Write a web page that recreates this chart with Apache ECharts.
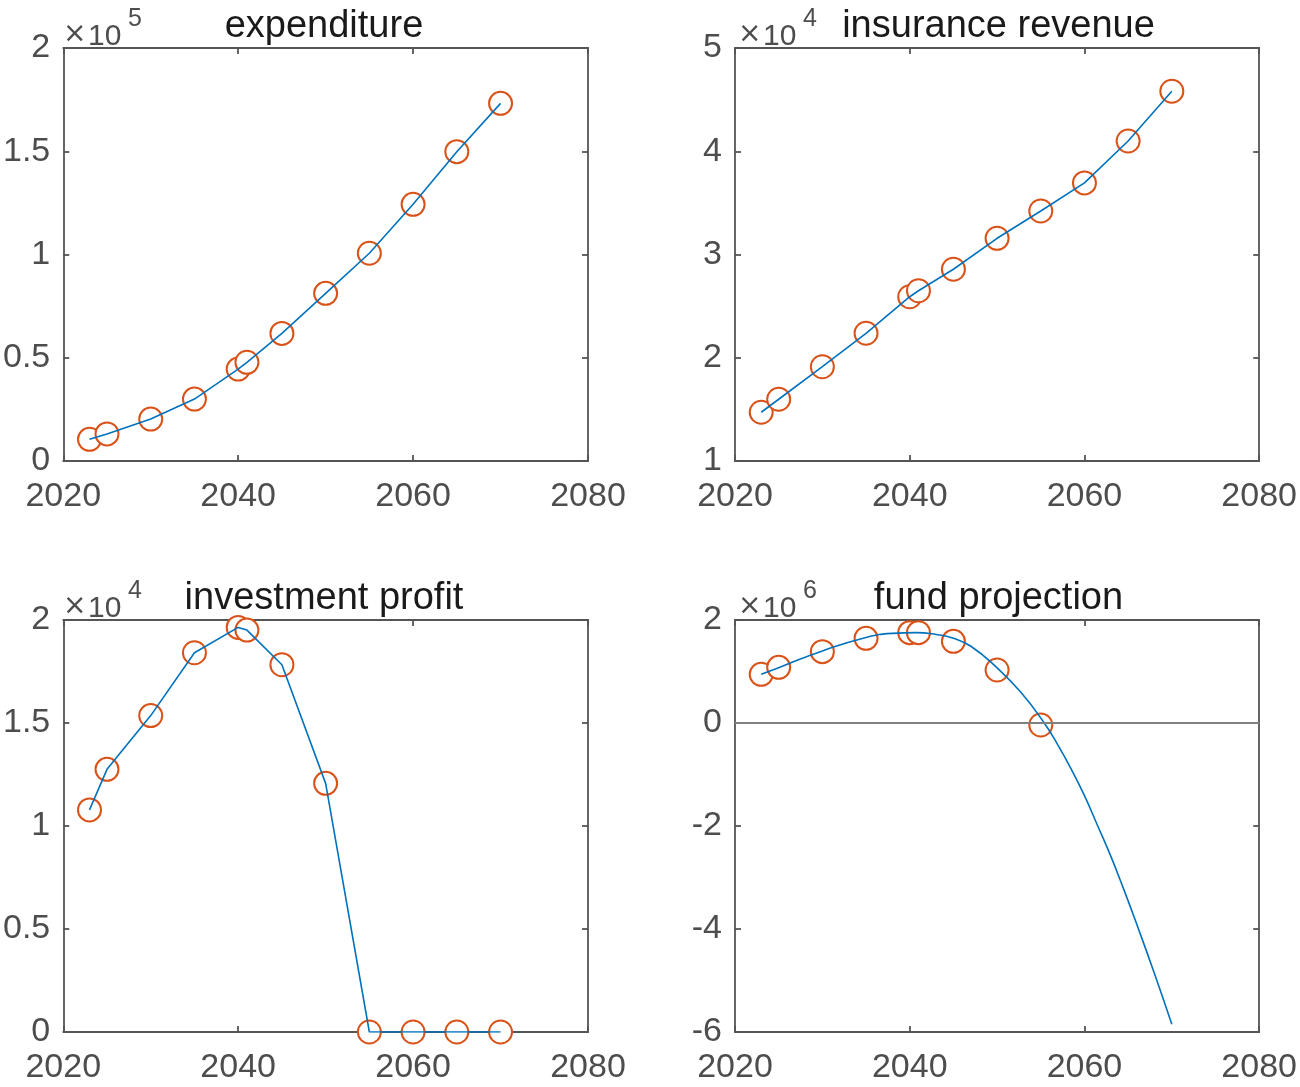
<!DOCTYPE html>
<html>
<head>
<meta charset="utf-8">
<script src="https://cdn.jsdelivr.net/npm/echarts@6/dist/echarts.min.js"></script>
<style>
  html, body { margin: 0; padding: 0; background: #fff; }
  #chart { width: 1300px; height: 1087px; }
</style>
</head>
<body>
<div id="chart"></div>
<script>
// sample years (markers)
const years = [2023, 2025, 2030, 2035, 2040, 2041, 2045, 2050, 2055, 2060, 2065, 2070]
const expenditure = [10500, 13100, 20300, 30000, 44500, 47800, 61800, 81200, 100600, 124300, 149800, 173200]
const insuranceRevenue = [14720, 15980, 19130, 22370, 25910, 26490, 28570, 31570, 34210, 36930, 40990, 45810]
const investmentProfit = [10780, 12750, 15360, 18410, 19640, 19510, 17830, 12070, 0, 0, 0, 0]

// fund projection: observed points until the fund runs out, plus the fitted curve
const fundYears = [2023, 2025, 2030, 2035, 2040, 2041, 2045, 2050, 2055]
const fundBalance = [945000, 1081000, 1385000, 1644000, 1754000, 1754000, 1585000, 1029000, -39000]
const fundCurveYears = [2023, 2025, 2030, 2035, 2038, 2040.7, 2043, 2045, 2047, 2050, 2052.7, 2055.4, 2057, 2058.5, 2060, 2061.5, 2063, 2064.5, 2066.1, 2068, 2070]
const fundCurveValues = [945000, 1075000, 1400000, 1660000, 1740000, 1755000, 1720000, 1645000, 1490000, 1070000, 600000, 0, -440000, -900000, -1410000, -1990000, -2580000, -3230000, -3960000, -4860000, -5850000]

const subplotTitles = ['expenditure', 'insurance revenue', 'investment profit', 'fund projection']
const exponents = ['5', '4', '4', '6']
const yTicks = [
  { min: 0, max: 200000, interval: 50000, scale: 1e5 },
  { min: 10000, max: 50000, interval: 10000, scale: 1e4 },
  { min: 0, max: 20000, interval: 5000, scale: 1e4 },
  { min: -6000000, max: 2000000, interval: 2000000, scale: 1e6 }
]

const FONT = '"Liberation Sans", Helvetica, Arial, sans-serif'
const AXIS_COLOR = '#555555'
const LABEL_COLOR = '#4d4d4d'
const BLUE = '#0072BD'
const ORANGE = '#D95319'

const boxes = [
  { left: 60, top: 48, width: 528, height: 413 },
  { left: 735, top: 48, width: 527, height: 413 },
  { left: 60, top: 620, width: 528, height: 412 },
  { left: 735, top: 620, width: 527, height: 412 }
]

function zip(xs, ys) {
  return xs.map((x, i) => [x, ys[i]])
}

const grid = []
const xAxis = []
const yAxis = []
const title = []

boxes.forEach((b, i) => {
  grid.push({ left: b.left, top: b.top, width: b.width, height: b.height, containLabel: false })
  const line = { show: true, onZero: false, lineStyle: { color: AXIS_COLOR, width: 1.8 } }
  const tick = { show: true, inside: true, length: 6, lineStyle: { color: AXIS_COLOR, width: 1.8 } }
  // bottom x axis with labels
  xAxis.push({
    type: 'value', gridIndex: i, position: 'bottom', min: 2020, max: 2080, interval: 20,
    axisLine: line, axisTick: tick, splitLine: { show: false },
    axisLabel: { color: LABEL_COLOR, fontSize: 34, fontFamily: FONT, margin: 19, formatter: v => String(v) }
  })
  // top x axis, ticks only
  xAxis.push({
    type: 'value', gridIndex: i, position: 'top', min: 2020, max: 2080, interval: 20,
    axisLine: line, axisTick: tick, splitLine: { show: false }, axisLabel: { show: false }
  })
  const yt = yTicks[i]
  yAxis.push({
    type: 'value', gridIndex: i, position: 'left', min: yt.min, max: yt.max, interval: yt.interval,
    axisLine: line, axisTick: tick, splitLine: { show: false },
    axisLabel: {
      color: LABEL_COLOR, fontSize: 34, fontFamily: FONT, margin: 13,
      formatter: v => String(Math.round(v / yt.scale * 10) / 10)
    }
  })
  yAxis.push({
    type: 'value', gridIndex: i, position: 'right', min: yt.min, max: yt.max, interval: yt.interval,
    axisLine: line, axisTick: tick, splitLine: { show: false }, axisLabel: { show: false }
  })

  const row = i < 2 ? 0 : 572
  title.push({
    text: subplotTitles[i], padding: 0,
    left: b.left + b.width / 2, top: 8 + row, textAlign: 'center',
    textStyle: { fontSize: 38, fontWeight: 'normal', color: '#1a1a1a', fontFamily: FONT }
  })
  title.push({
    text: '×', padding: 0,
    left: b.left + 3, top: 21 + row,
    textStyle: { fontSize: 28, fontWeight: 'normal', color: LABEL_COLOR, fontFamily: '"DejaVu Sans", sans-serif' }
  })
  title.push({
    text: '10', padding: 0,
    left: b.left + 28, top: 22 + row,
    textStyle: { fontSize: 30, fontWeight: 'normal', color: LABEL_COLOR, fontFamily: FONT }
  })
  title.push({
    text: exponents[i], padding: 0,
    left: b.left + 68, top: 7 + row,
    textStyle: { fontSize: 25, fontWeight: 'normal', color: LABEL_COLOR, fontFamily: FONT }
  })
})

function lineSeries(idx, data, smooth) {
  return {
    type: 'line', xAxisIndex: idx * 2, yAxisIndex: idx * 2, data: data,
    showSymbol: false, smooth: smooth || false, z: 4,
    lineStyle: { color: BLUE, width: 1.6 }, silent: true, animation: false
  }
}

function markerSeries(idx, data) {
  return {
    type: 'scatter', xAxisIndex: idx * 2, yAxisIndex: idx * 2, data: data,
    symbol: 'emptyCircle', symbolSize: 23, z: 3, clip: false,
    itemStyle: { color: ORANGE, borderColor: ORANGE, borderWidth: 1.8, opacity: 1 },
    silent: true, animation: false
  }
}

const series = [
  markerSeries(0, zip(years, expenditure)),
  lineSeries(0, zip(years, expenditure)),
  markerSeries(1, zip(years, insuranceRevenue)),
  lineSeries(1, zip(years, insuranceRevenue)),
  markerSeries(2, zip(years, investmentProfit)),
  lineSeries(2, zip(years, investmentProfit)),
  {
    // zero reference line
    type: 'line', xAxisIndex: 6, yAxisIndex: 6, data: [], silent: true, animation: false,
    markLine: {
      silent: true, symbol: 'none', label: { show: false },
      lineStyle: { color: '#808080', width: 2, type: 'solid' },
      data: [{ yAxis: 0 }]
    }
  },
  markerSeries(3, zip(fundYears, fundBalance)),
  lineSeries(3, zip(fundCurveYears, fundCurveValues), 0.5)
]

const chart = echarts.init(document.getElementById('chart'), null, { renderer: 'canvas' })
chart.setOption({
  backgroundColor: '#ffffff',
  animation: false,
  title: title,
  grid: grid,
  xAxis: xAxis,
  yAxis: yAxis,
  series: series
})
window.addEventListener('resize', () => chart.resize())
</script>
</body>
</html>
